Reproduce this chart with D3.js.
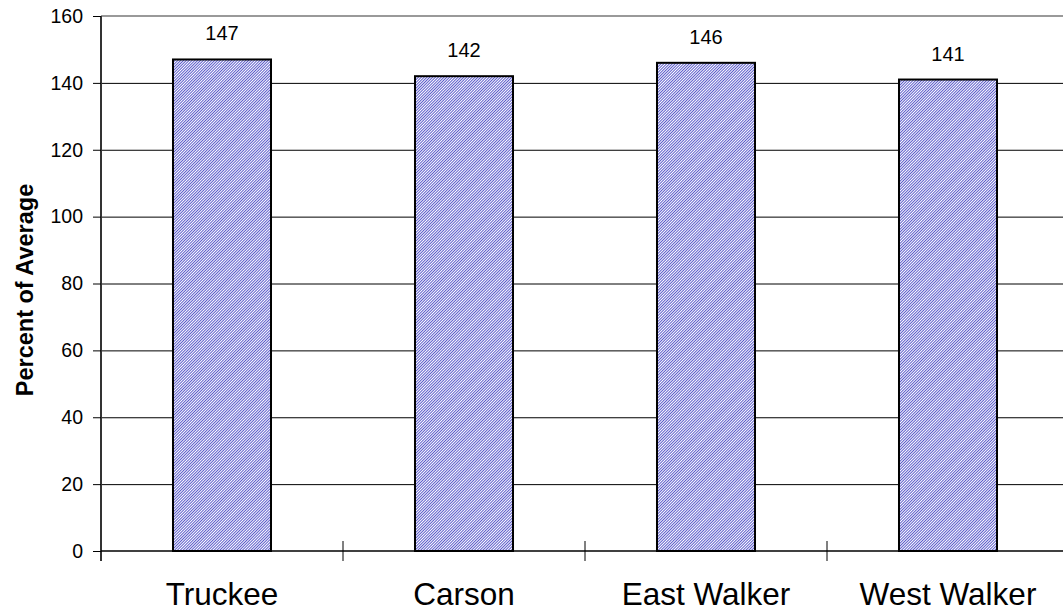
<!DOCTYPE html>
<html><head><meta charset="utf-8">
<script src="https://cdn.jsdelivr.net/npm/d3@7"></script>
<style>body{margin:0;background:#fff;}svg{display:block;font-family:Arial,"Liberation Sans",sans-serif;}</style>
</head><body>
<svg id="c" width="1063" height="613"></svg>
<script>
const categories = ["Truckee", "Carson", "East Walker", "West Walker"];
const values = [147, 142, 146, 141];
const yTicks = [0, 20, 40, 60, 80, 100, 120, 140, 160];
const yTitle = "Percent of Average";

const svg = d3.select("#c");
const W = 1063, H = 613;
const mLeft = 101, mBottom = 551, mTop = 16;
const y = d3.scaleLinear().domain([0, 160]).range([mBottom, mTop]);
const xc = d3.scaleBand().domain(categories).range([mLeft, mLeft + 968]).padding(0);
const barFrac = 0.405;

const defs = svg.append("defs");
const pat = defs.append("pattern").attr("id", "hatch").attr("patternUnits", "userSpaceOnUse")
  .attr("width", 2).attr("height", 2).attr("patternTransform", "rotate(45)");
pat.append("rect").attr("width", 2).attr("height", 2).attr("fill", "#ffffff");
pat.append("rect").attr("width", 0.95).attr("height", 2).attr("fill", "#5252c8");

// gridlines
svg.append("g").selectAll("line").data(yTicks.filter(d => d > 0 && d < 160)).join("line")
  .attr("x1", mLeft).attr("x2", W).attr("y1", d => y(d) + 0.5).attr("y2", d => y(d) + 0.5)
  .attr("stroke", "#000").attr("stroke-width", 1);
// top border line
svg.append("line").attr("x1", mLeft).attr("x2", W).attr("y1", y(160)).attr("y2", y(160))
  .attr("stroke", "#999").attr("stroke-width", 2);

// y axis
const yAxis = d3.axisLeft(y).tickValues(yTicks).tickSize(8).tickPadding(10);
const gy = svg.append("g").attr("transform", `translate(${mLeft},0)`).call(yAxis);
gy.select(".domain").attr("stroke", "#333").attr("stroke-width", 2).attr("d", `M0,${y(160)}V${mBottom + 10}`);
gy.selectAll(".tick line").attr("stroke", "#000");
gy.selectAll(".tick text").attr("font-size", 19.5).attr("fill", "#000").attr("font-family", "Arial, 'Liberation Sans', sans-serif");

// bars
svg.append("g").selectAll("rect").data(categories).join("rect")
  .attr("x", d => xc(d) + xc.bandwidth() * (1 - barFrac) / 2)
  .attr("width", xc.bandwidth() * barFrac)
  .attr("y", (d, i) => y(values[i]))
  .attr("height", (d, i) => y(0) - y(values[i]))
  .attr("fill", "url(#hatch)").attr("stroke", "#000").attr("stroke-width", 2);

// x axis
svg.append("line").attr("x1", mLeft).attr("x2", W).attr("y1", mBottom).attr("y2", mBottom)
  .attr("stroke", "#000").attr("stroke-width", 1.5);
svg.append("g").selectAll("line").data(categories.slice(1)).join("line")
  .attr("x1", d => xc(d)).attr("x2", d => xc(d)).attr("y1", mBottom - 10).attr("y2", mBottom + 10)
  .attr("stroke", "#000").attr("stroke-width", 1);

// category labels
svg.append("g").selectAll("text").data(categories).join("text")
  .attr("x", d => xc(d) + xc.bandwidth() / 2).attr("y", 605)
  .attr("text-anchor", "middle").attr("font-size", 31.5).attr("fill", "#000").text(d => d);

// value labels
svg.append("g").selectAll("text").data(categories).join("text")
  .attr("x", d => xc(d) + xc.bandwidth() / 2).attr("y", (d, i) => y(values[i]) - 19)
  .attr("text-anchor", "middle").attr("font-size", 20).attr("fill", "#000").text((d, i) => values[i]);

// y title
svg.append("text").attr("transform", `translate(33,290) rotate(-90)`)
  .attr("text-anchor", "middle").attr("font-size", 23.5).attr("font-weight", "bold").attr("fill", "#000").text(yTitle);
</script>
</body></html>
